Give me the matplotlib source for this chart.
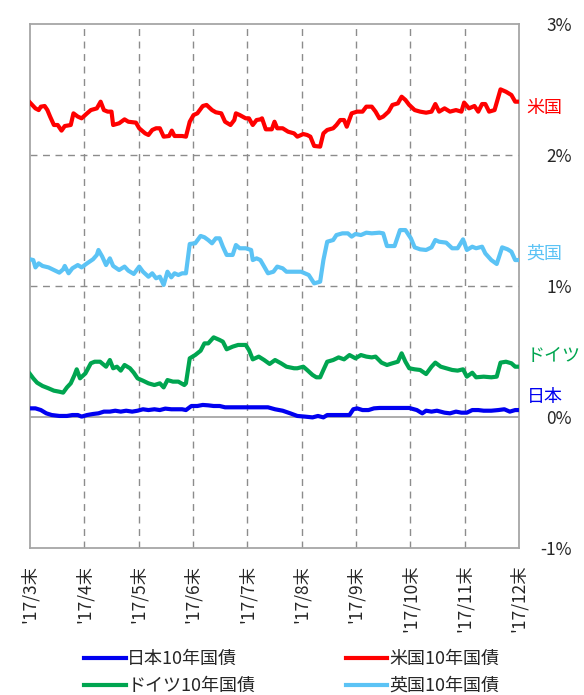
import matplotlib
matplotlib.use("Agg")
import matplotlib.pyplot as plt
import matplotlib.transforms as mtransforms

plt.rcParams['font.family'] = ['Noto Sans CJK JP', 'DejaVu Sans']

# x = months elapsed since end of March 2017 (0 = '17/3末, 9 = '17/12末)
month_labels = ["'17/3末", "'17/4末", "'17/5末", "'17/6末", "'17/7末",
                "'17/8末", "'17/9末", "'17/10末", "'17/11末", "'17/12末"]
y_ticks = [-1, 0, 1, 2, 3]
y_tick_labels = ["-1%", "0%", "1%", "2%", "3%"]

us_x = [0.0, 0.10, 0.16, 0.20, 0.27, 0.32, 0.37, 0.44, 0.51, 0.58, 0.64, 0.75, 0.80, 0.88, 0.95,
        1.05, 1.12, 1.23, 1.30, 1.36, 1.43, 1.50, 1.53, 1.64, 1.74, 1.81, 1.95, 2.01, 2.12, 2.18,
        2.25, 2.32, 2.39, 2.46, 2.56, 2.61, 2.66, 2.80, 2.87, 2.94, 3.01, 3.08, 3.18, 3.25, 3.35,
        3.42, 3.52, 3.59, 3.69, 3.76, 3.79, 3.86, 3.97, 4.03, 4.10, 4.17, 4.24, 4.27, 4.34, 4.45,
        4.50, 4.55, 4.65, 4.75, 4.86, 4.92, 5.03, 5.10, 5.16, 5.23, 5.34, 5.40, 5.47, 5.58, 5.64,
        5.71, 5.78, 5.83, 5.92, 6.02, 6.12, 6.19, 6.29, 6.36, 6.43, 6.50, 6.60, 6.67, 6.77, 6.84,
        6.91, 6.98, 7.08, 7.18, 7.29, 7.39, 7.46, 7.53, 7.63, 7.73, 7.84, 7.94, 7.99, 8.08, 8.18,
        8.25, 8.32, 8.38, 8.45, 8.55, 8.66, 8.76, 8.86, 8.93, 9.00]
us_y = [2.400, 2.356, 2.343, 2.369, 2.374, 2.343, 2.293, 2.229, 2.229, 2.186, 2.221, 2.229, 2.318, 2.293, 2.280,
        2.318, 2.343, 2.356, 2.407, 2.343, 2.331, 2.331, 2.229, 2.242, 2.272, 2.254, 2.247, 2.204, 2.165, 2.153,
        2.191, 2.204, 2.204, 2.140, 2.145, 2.186, 2.145, 2.145, 2.140, 2.254, 2.305, 2.318, 2.374, 2.382, 2.343,
        2.326, 2.318, 2.254, 2.229, 2.267, 2.318, 2.305, 2.280, 2.280, 2.229, 2.267, 2.272, 2.280, 2.196, 2.196,
        2.254, 2.204, 2.204, 2.178, 2.165, 2.140, 2.160, 2.153, 2.140, 2.069, 2.064, 2.165, 2.191, 2.204, 2.229,
        2.267, 2.267, 2.216, 2.318, 2.331, 2.331, 2.369, 2.369, 2.331, 2.280, 2.293, 2.331, 2.382, 2.394, 2.445,
        2.420, 2.382, 2.343, 2.331, 2.323, 2.331, 2.389, 2.331, 2.356, 2.331, 2.343, 2.331, 2.400, 2.356, 2.374,
        2.331, 2.389, 2.389, 2.331, 2.343, 2.501, 2.483, 2.458, 2.407, 2.407]

uk_x = [0.0, 0.06, 0.10, 0.16, 0.23, 0.34, 0.44, 0.54, 0.61, 0.64, 0.71, 0.78, 0.88, 0.95, 1.05,
        1.16, 1.23, 1.26, 1.33, 1.40, 1.47, 1.53, 1.64, 1.74, 1.81, 1.91, 2.01, 2.08, 2.18, 2.25,
        2.32, 2.39, 2.46, 2.53, 2.60, 2.66, 2.73, 2.80, 2.87, 2.94, 3.04, 3.14, 3.21, 3.28, 3.35,
        3.42, 3.49, 3.55, 3.62, 3.73, 3.79, 3.86, 3.97, 4.07, 4.10, 4.17, 4.24, 4.31, 4.38, 4.48,
        4.55, 4.65, 4.72, 4.86, 4.99, 5.13, 5.23, 5.34, 5.40, 5.47, 5.58, 5.64, 5.75, 5.85, 5.92,
        5.99, 6.09, 6.19, 6.29, 6.43, 6.50, 6.57, 6.71, 6.81, 6.91, 7.01, 7.08, 7.18, 7.29, 7.39,
        7.46, 7.53, 7.66, 7.77, 7.87, 7.97, 8.04, 8.14, 8.21, 8.32, 8.38, 8.49, 8.59, 8.69, 8.79,
        8.86, 8.93, 9.00]
uk_y = [1.204, 1.198, 1.142, 1.173, 1.153, 1.142, 1.122, 1.102, 1.127, 1.153, 1.097, 1.135, 1.160, 1.142, 1.173,
        1.204, 1.237, 1.275, 1.224, 1.160, 1.211, 1.153, 1.122, 1.148, 1.117, 1.092, 1.148, 1.109, 1.071, 1.097,
        1.059, 1.071, 1.008, 1.109, 1.066, 1.097, 1.084, 1.097, 1.097, 1.321, 1.326, 1.382, 1.372, 1.351, 1.326,
        1.364, 1.364, 1.300, 1.237, 1.237, 1.313, 1.288, 1.288, 1.275, 1.198, 1.211, 1.198, 1.148, 1.097, 1.109,
        1.148, 1.135, 1.109, 1.109, 1.109, 1.084, 1.020, 1.033, 1.198, 1.338, 1.351, 1.389, 1.402, 1.402, 1.377,
        1.397, 1.389, 1.407, 1.402, 1.407, 1.402, 1.305, 1.305, 1.427, 1.427, 1.364, 1.295, 1.280, 1.275, 1.295,
        1.351, 1.338, 1.331, 1.288, 1.288, 1.356, 1.275, 1.300, 1.288, 1.300, 1.249, 1.198, 1.168, 1.295, 1.280,
        1.262, 1.198, 1.198]

de_x = [0.0, 0.06, 0.13, 0.23, 0.34, 0.44, 0.54, 0.61, 0.68, 0.75, 0.82, 0.86, 0.92, 1.02, 1.12,
        1.19, 1.29, 1.40, 1.47, 1.53, 1.60, 1.67, 1.74, 1.84, 1.91, 1.98, 2.08, 2.18, 2.29, 2.39,
        2.46, 2.53, 2.63, 2.73, 2.84, 2.87, 2.94, 3.04, 3.14, 3.21, 3.28, 3.38, 3.49, 3.55, 3.62,
        3.73, 3.83, 3.97, 4.03, 4.10, 4.21, 4.31, 4.41, 4.51, 4.62, 4.72, 4.86, 4.92, 5.03, 5.10,
        5.20, 5.27, 5.34, 5.40, 5.47, 5.58, 5.68, 5.78, 5.88, 5.99, 6.09, 6.19, 6.29, 6.36, 6.47,
        6.57, 6.67, 6.77, 6.84, 6.91, 6.98, 7.08, 7.18, 7.29, 7.39, 7.46, 7.56, 7.66, 7.77, 7.87,
        7.97, 8.04, 8.14, 8.21, 8.35, 8.49, 8.59, 8.66, 8.76, 8.86, 8.93, 9.00]
de_y = [0.328, 0.295, 0.262, 0.237, 0.219, 0.201, 0.193, 0.186, 0.226, 0.257, 0.321, 0.364, 0.295, 0.333, 0.410,
        0.422, 0.422, 0.384, 0.435, 0.372, 0.384, 0.354, 0.397, 0.372, 0.338, 0.295, 0.277, 0.257, 0.244, 0.257,
        0.226, 0.282, 0.270, 0.270, 0.244, 0.257, 0.448, 0.473, 0.506, 0.562, 0.562, 0.608, 0.588, 0.575, 0.517,
        0.537, 0.550, 0.550, 0.511, 0.440, 0.461, 0.435, 0.405, 0.435, 0.410, 0.384, 0.372, 0.372, 0.384, 0.359,
        0.321, 0.303, 0.303, 0.359, 0.422, 0.435, 0.455, 0.440, 0.473, 0.448, 0.473, 0.461, 0.455, 0.461, 0.415,
        0.397, 0.410, 0.422, 0.486, 0.422, 0.372, 0.364, 0.359, 0.328, 0.384, 0.415, 0.384, 0.372, 0.359, 0.354,
        0.364, 0.308, 0.338, 0.303, 0.308, 0.303, 0.308, 0.415, 0.422, 0.410, 0.384, 0.384]

jp_x = [0.0, 0.10, 0.20, 0.30, 0.40, 0.54, 0.68, 0.78, 0.88, 0.95, 1.05, 1.16, 1.26, 1.36, 1.47,
        1.57, 1.67, 1.77, 1.88, 1.98, 2.08, 2.18, 2.29, 2.39, 2.49, 2.60, 2.70, 2.80, 2.87, 2.97,
        3.08, 3.18, 3.28, 3.38, 3.49, 3.59, 3.69, 3.83, 3.97, 4.10, 4.24, 4.38, 4.51, 4.65, 4.79,
        4.92, 5.06, 5.20, 5.30, 5.40, 5.47, 5.58, 5.68, 5.78, 5.88, 5.95, 6.02, 6.12, 6.23, 6.33,
        6.43, 6.57, 6.71, 6.84, 6.98, 7.12, 7.22, 7.29, 7.39, 7.49, 7.63, 7.73, 7.84, 7.94, 8.04,
        8.14, 8.25, 8.35, 8.49, 8.62, 8.73, 8.83, 8.93, 9.00]
jp_y = [0.066, 0.066, 0.053, 0.028, 0.015, 0.008, 0.008, 0.015, 0.015, 0.003, 0.015, 0.023, 0.028, 0.041, 0.041,
        0.048, 0.041, 0.048, 0.041, 0.048, 0.059, 0.053, 0.059, 0.053, 0.064, 0.059, 0.059, 0.059, 0.053, 0.084,
        0.084, 0.092, 0.089, 0.084, 0.084, 0.074, 0.074, 0.074, 0.074, 0.074, 0.074, 0.074, 0.059, 0.048, 0.028,
        0.008, 0.003, -0.003, 0.008, -0.003, 0.015, 0.015, 0.015, 0.015, 0.015, 0.059, 0.066, 0.053, 0.053, 0.066,
        0.069, 0.069, 0.069, 0.069, 0.069, 0.053, 0.028, 0.048, 0.041, 0.048, 0.033, 0.028, 0.041, 0.033, 0.033,
        0.053, 0.053, 0.048, 0.048, 0.053, 0.059, 0.041, 0.053, 0.053]

series_names = ["日本10年国債", "米国10年国債", "ドイツ10年国債", "英国10年国債"]
short_names = ["日本", "米国", "ドイツ", "英国"]
colors = ["#0000F0", "#FF0000", "#00A550", "#5BC3F5"]

fig = plt.figure(figsize=(5.84, 6.95), dpi=100)
ax = fig.add_axes([30/584, 1-548/695, 489/584, 524/695])

grid_c = "#8C8C8C"
for i in range(1, 9):
    ax.axvline(i, color=grid_c, lw=1.0, ls=(0, (5, 4)), zorder=1)
for v in (1, 2):
    ax.axhline(v, color=grid_c, lw=1.0, ls=(0, (5, 4)), zorder=1)
ax.axhline(0, color="#A6A6A6", lw=1.3, zorder=1)

lines = []
for xs, ys, c in [(jp_x, jp_y, colors[0]), (us_x, us_y, colors[1]),
                  (de_x, de_y, colors[2]), (uk_x, uk_y, colors[3])]:
    ln, = ax.plot(xs, ys, color=c, lw=3.0, solid_joinstyle='round', zorder=3)
    lines.append(ln)

ax.set_xlim(0, 9)
ax.set_ylim(-1, 3)
ax.set_xticks(range(10))
ax.set_xticklabels(month_labels, rotation=90, ha='center', va='top', fontsize=12.5, color='#262626')
ax.tick_params(axis='x', length=0, pad=12)
ax.yaxis.tick_right()
ax.set_yticks(y_ticks)
ax.set_yticklabels(y_tick_labels, fontsize=12.5, color='#262626')
for lab in ax.get_yticklabels():
    lab.set_horizontalalignment('right')
ax.tick_params(axis='y', length=0, pad=38)
for s in ax.spines.values():
    s.set_color("#A6A6A6")
    s.set_linewidth(1.3)

# series labels at the right edge
label_pos = [0.153, 2.36, 0.466, 1.244]
trans = mtransforms.blended_transform_factory(ax.transAxes, ax.transData)
for name, c, yv in zip(short_names, colors, label_pos):
    ax.text(1.016, yv, name, color=c, fontsize=13, ha='left', va='center', transform=trans)

# legend: row 1 = 日本, 米国 ; row 2 = ドイツ, 英国 (matplotlib fills column-wise)
order = [0, 2, 1, 3]
leg = fig.legend([lines[i] for i in order], [series_names[i] for i in order],
                 loc='upper left', bbox_to_anchor=(84/584, 1-650/695), ncol=2,
                 frameon=False, fontsize=13, handlelength=2.3, handletextpad=0.1,
                 columnspacing=5.0, labelspacing=0.5, borderpad=0, borderaxespad=0)
for t in leg.get_texts():
    t.set_color('#262626')

fig.savefig("out.png", dpi=100)
